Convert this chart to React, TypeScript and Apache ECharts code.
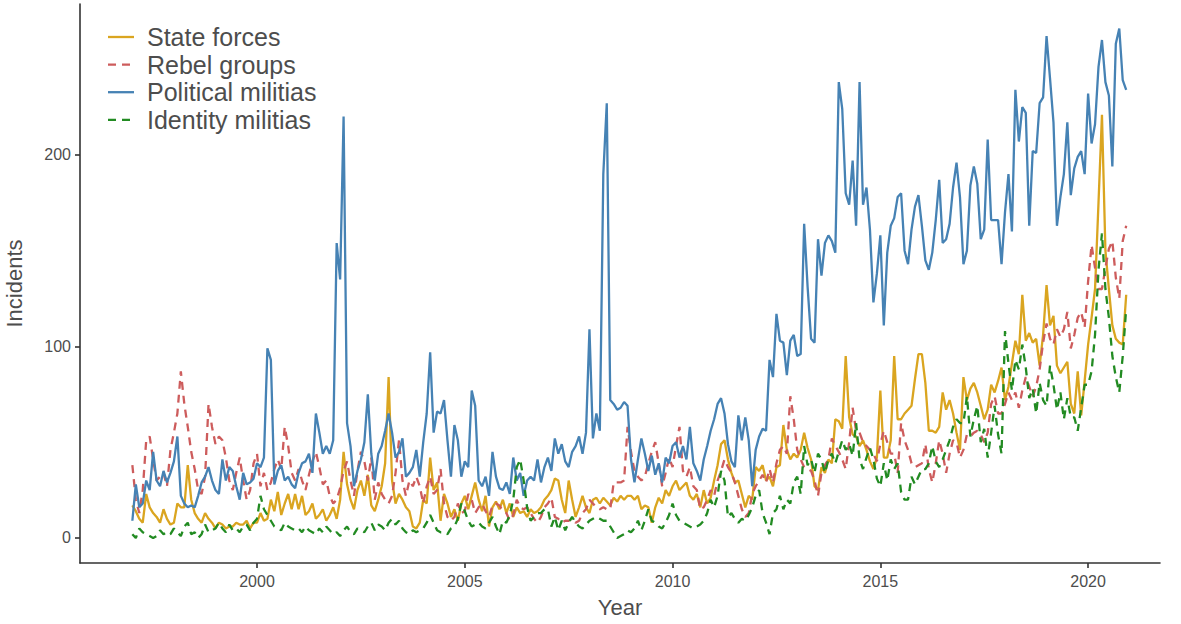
import React, { useEffect, useRef } from "react";
import * as echarts from "echarts";

const START_YEAR = 1997;
const X_TICKS = [2000, 2005, 2010, 2015, 2020];
const Y_TICKS = [0, 100, 200];
const NAMES = ["State forces", "Rebel groups", "Political militias", "Identity militias"];
const COLORS = ["#DAA520", "#CD5C5C", "#4682B4", "#228B22"];
const DASHED = [false, true, false, true];

// monthly values, Jan 1997 - Dec 2020 (12 per row)
const stateForces = [
  17, 14, 10, 8, 23, 16, 13, 11, 8, 15, 10, 7,
  8, 18, 16, 16, 38, 20, 13, 10, 8, 13, 10, 8,
  5, 8, 7, 5, 6, 6, 8, 7, 7, 9, 5, 8,
  8, 13, 9, 10, 20, 14, 24, 12, 18, 23, 15, 23,
  15, 22, 12, 14, 18, 10, 12, 15, 9, 12, 16, 10,
  20, 45, 28, 20, 15, 25, 30, 22, 33, 17, 14, 20,
  27, 39, 84, 30, 18, 23, 20, 16, 14, 6, 5, 8,
  20, 18, 42, 25, 29, 9, 23, 18, 11, 15, 9, 18,
  22, 15, 22, 29, 20, 14, 22, 6, 16, 19, 15, 20,
  13, 18, 11, 16, 13, 14, 11, 15, 13, 14, 16, 20,
  22, 25, 31, 30, 20, 13, 30, 20, 11, 16, 22, 16,
  13, 20, 21, 18, 21, 19, 17, 21, 19, 22, 20, 22,
  22, 20, 22, 15, 17, 16, 8, 16, 21, 18, 25, 22,
  27, 30, 25, 27, 29, 22, 20, 23, 16, 25, 18, 21,
  30, 38, 49, 51, 41, 34, 29, 30, 23, 16, 22, 20,
  37, 35, 38, 30, 32, 27, 37, 38, 59, 46, 41, 44,
  42, 46, 55, 47, 41, 27, 25, 37, 34, 41, 39, 62,
  61, 57, 95, 63, 54, 53, 48, 51, 46, 40, 36, 42,
  77, 42, 42, 51, 95, 62, 62, 65, 67, 69, 83, 96,
  96, 81, 56, 56, 55, 58, 76, 67, 72, 65, 55, 46,
  84, 72, 78, 81, 76, 69, 62, 67, 80, 76, 82, 89,
  72, 79, 91, 103, 96, 127, 103, 107, 102, 104, 90, 106,
  132, 111, 116, 90, 86, 89, 92, 70, 65, 87, 64, 82,
  101, 115, 130, 175, 221, 150, 130, 111, 104, 102, 101, 127,
];

const rebelGroups = [
  38, 20, 13, 25, 51, 53, 41, 30, 32, 34, 27, 46,
  55, 65, 87, 70, 58, 45, 36, 25, 23, 32, 70, 58,
  49, 53, 51, 42, 30, 25, 34, 42, 30, 20, 25, 39,
  44, 27, 34, 25, 29, 36, 41, 36, 58, 48, 34, 30,
  36, 30, 25, 33, 40, 45, 37, 28, 30, 22, 18, 20,
  26, 35, 40, 30, 22, 35, 45, 40, 30, 42, 20, 29,
  23, 20, 18, 22, 34, 51, 30, 22, 30, 27, 32, 27,
  18, 27, 32, 23, 25, 36, 18, 11, 9, 11, 18, 13,
  14, 23, 20, 13, 16, 18, 14, 11, 17, 18, 17, 14,
  13, 9, 12, 20, 16, 15, 16, 13, 10, 8, 11, 16,
  18, 21, 11, 10, 8, 9, 9, 10, 8, 9, 13, 15,
  20, 18, 16, 15, 16, 15, 15, 29, 29, 29, 30, 58,
  45, 35, 32, 30, 32, 39, 45, 50, 39, 27, 34, 42,
  37, 48, 58, 35, 32, 37, 27, 25, 15, 16, 20, 25,
  22, 30, 35, 41, 37, 34, 29, 22, 15, 11, 13, 23,
  27, 30, 33, 29, 36, 29, 39, 46, 48, 44, 74, 62,
  46, 41, 37, 36, 35, 30, 22, 34, 38, 41, 52, 48,
  45, 41, 36, 50, 68, 56, 55, 50, 48, 46, 44, 40,
  49, 56, 50, 44, 44, 34, 60, 51, 46, 39, 37, 38,
  39, 49, 36, 29, 39, 51, 44, 34, 44, 51, 50, 42,
  46, 54, 53, 55, 56, 54, 50, 55, 70, 74, 65, 65,
  70, 76, 72, 76, 68, 77, 84, 79, 74, 79, 88, 102,
  112, 104, 101, 109, 105, 109, 118, 99, 106, 115, 118, 110,
  134, 153, 141, 130, 130, 141, 151, 155, 136, 125, 155, 163,
];

const politicalMilitias = [
  9, 28, 16, 18, 30, 25, 45, 30, 27, 35, 29, 34,
  40, 53, 22, 18, 16, 17, 16, 22, 29, 32, 37, 30,
  25, 23, 41, 30, 37, 35, 27, 20, 34, 28, 29, 31,
  39, 37, 42, 99, 93, 28, 35, 38, 30, 32, 28, 26,
  34, 39, 40, 44, 34, 65, 55, 44, 48, 44, 51, 154,
  135, 220, 60, 48, 27, 35, 41, 50, 75, 44, 30, 44,
  48, 56, 65, 55, 42, 45, 52, 32, 34, 37, 46, 32,
  50, 65, 97, 55, 66, 65, 72, 51, 32, 59, 51, 32,
  40, 37, 77, 69, 30, 27, 32, 22, 45, 32, 26, 25,
  29, 23, 42, 30, 34, 22, 30, 32, 30, 41, 29, 37,
  42, 35, 52, 44, 49, 40, 37, 45, 48, 53, 44, 55,
  109, 52, 65, 56, 190, 227, 72, 70, 67, 68, 71, 69,
  41, 29, 41, 52, 44, 35, 43, 33, 39, 29, 42, 39,
  48, 50, 42, 48, 41, 58, 39, 35, 30, 41, 48, 56,
  62, 70, 73, 65, 49, 40, 37, 64, 51, 63, 51, 27,
  46, 53, 57, 56, 93, 84, 117, 103, 102, 85, 103, 106,
  95, 96, 164, 131, 104, 102, 156, 137, 154, 158, 155, 149,
  238, 224, 180, 174, 197, 163, 238, 174, 183, 161, 123, 138,
  158, 111, 149, 163, 167, 178, 180, 150, 143, 161, 173, 179,
  163, 145, 140, 149, 166, 187, 154, 156, 164, 183, 196, 178,
  143, 150, 184, 194, 185, 156, 161, 208, 166, 166, 166, 143,
  170, 190, 160, 234, 207, 225, 222, 163, 202, 201, 227, 230,
  262, 240, 217, 163, 178, 190, 217, 179, 193, 199, 202, 190,
  232, 206, 216, 246, 260, 238, 231, 194, 258, 266, 239, 234,
];

const identityMilitias = [
  2, 0, 5, 3, 2, 1, 0, 1, 4, 2, 3, 2,
  5, 3, 1, 6, 8, 2, 3, 0, 2, 7, 3, 4,
  5, 8, 5, 3, 7, 4, 5, 3, 6, 7, 4, 8,
  10, 22, 15, 12, 9, 6, 5, 4, 8, 6, 5, 4,
  5, 3, 6, 4, 3, 2, 5, 3, 6, 4, 2, 3,
  1, 4, 6, 3, 2, 5, 4, 3, 6, 8, 4, 7,
  6, 4, 8, 10, 7, 9, 5, 3, 2, 4, 3, 4,
  5, 8, 12, 8, 4, 3, 3, 2, 5, 6, 10, 18,
  14, 9, 6, 7, 8, 6, 5, 8, 11, 6, 2, 9,
  8, 12, 20, 37, 41, 30, 16, 9, 11, 13, 13, 15,
  15, 6, 11, 4, 9, 4, 8, 11, 8, 6, 5, 7,
  9, 10, 11, 10, 9, 9, 6, 3, 0, 1, 2, 4,
  3, 5, 9, 4, 9, 15, 9, 8, 6, 5, 8, 12,
  18, 12, 9, 8, 7, 6, 5, 6, 7, 9, 13, 20,
  16, 22, 35, 30, 11, 13, 10, 8, 10, 9, 12, 16,
  22, 25, 13, 8, 2, 13, 15, 22, 15, 20, 18, 29,
  32, 23, 48, 38, 41, 34, 44, 41, 34, 41, 44, 39,
  45, 51, 46, 49, 43, 60, 41, 36, 42, 47, 41, 31,
  27, 39, 30, 41, 36, 39, 24, 20, 20, 32, 28, 32,
  36, 36, 39, 48, 40, 37, 41, 46, 51, 58, 62, 60,
  60, 74, 53, 62, 69, 50, 57, 42, 55, 69, 54, 44,
  108, 91, 77, 93, 88, 101, 89, 73, 78, 65, 81, 72,
  69, 90, 80, 67, 76, 62, 73, 63, 63, 56, 68, 80,
  80, 87, 106, 140, 159, 130, 115, 95, 84, 76, 95, 120,
];

const SERIES_VALUES = [stateForces, rebelGroups, politicalMilitias, identityMilitias];

const FONT = "'Liberation Sans', Arial, sans-serif";
const TEXT_COLOR = "#4d4d4d";
const AXIS_COLOR = "#333333";

export default function App() {
  const ref = useRef<HTMLDivElement>(null);

  useEffect(() => {
    if (!ref.current) return;
    const chart = echarts.init(ref.current, null, { renderer: "svg" });

    const series = SERIES_VALUES.map((vals, k) => ({
      name: NAMES[k],
      type: "line",
      showSymbol: false,
      symbol: "none",
      data: vals.map((v, i) => [START_YEAR + i / 12, v]),
      lineStyle: {
        color: COLORS[k],
        width: 2.3,
        type: DASHED[k] ? [8, 6] : "solid",
      },
      itemStyle: { color: COLORS[k] },
      z: 2 + k,
    }));

    const legendItems: any[] = [];
    NAMES.forEach((name, k) => {
      const y = 37 + k * 27.6;
      legendItems.push({
        type: "line",
        shape: { x1: 108, y1: y, x2: 134, y2: y },
        style: {
          stroke: COLORS[k],
          lineWidth: 2.3,
          lineDash: DASHED[k] ? [8, 6] : null,
        },
      });
      legendItems.push({
        type: "text",
        x: 147,
        y,
        style: {
          text: name,
          fill: TEXT_COLOR,
          font: `25px ${FONT}`,
          verticalAlign: "middle",
        },
      });
    });

    const plain = (v: number) => String(v);

    chart.setOption({
      animation: false,
      backgroundColor: "#ffffff",
      grid: { left: 80, right: 21, top: 4, bottom: 61, containLabel: false, outerBoundsMode: "none" },
      xAxis: {
        type: "value",
        min: 1995.74,
        max: 2021.73,
        name: "Year",
        nameLocation: "middle",
        nameGap: 33,
        nameTextStyle: { fontSize: 22, color: TEXT_COLOR, fontFamily: FONT },
        axisLine: { show: true, onZero: false, lineStyle: { color: AXIS_COLOR, width: 1.6 } },
        axisTick: { show: true, customValues: X_TICKS, length: 5, lineStyle: { color: AXIS_COLOR, width: 1.6 } },
        axisLabel: { customValues: X_TICKS, formatter: plain, color: TEXT_COLOR, fontSize: 16, fontFamily: FONT, margin: 10 },
        splitLine: { show: false },
      },
      yAxis: {
        type: "value",
        min: -13.06,
        max: 278.8,
        name: "Incidents",
        nameLocation: "middle",
        nameGap: 55,
        nameTextStyle: { fontSize: 22, color: TEXT_COLOR, fontFamily: FONT },
        axisLine: { show: true, onZero: false, lineStyle: { color: AXIS_COLOR, width: 1.6 } },
        axisTick: { show: true, customValues: Y_TICKS, length: 5, lineStyle: { color: AXIS_COLOR, width: 1.6 } },
        axisLabel: { customValues: Y_TICKS, formatter: plain, color: TEXT_COLOR, fontSize: 16, fontFamily: FONT, margin: 9 },
        splitLine: { show: false },
      },
      graphic: legendItems,
      series,
    });

    return () => chart.dispose();
  }, []);

  return (
    <div
      ref={ref}
      style={{ position: "fixed", left: 0, top: 0, width: 1181, height: 624, background: "#fff" }}
    />
  );
}
